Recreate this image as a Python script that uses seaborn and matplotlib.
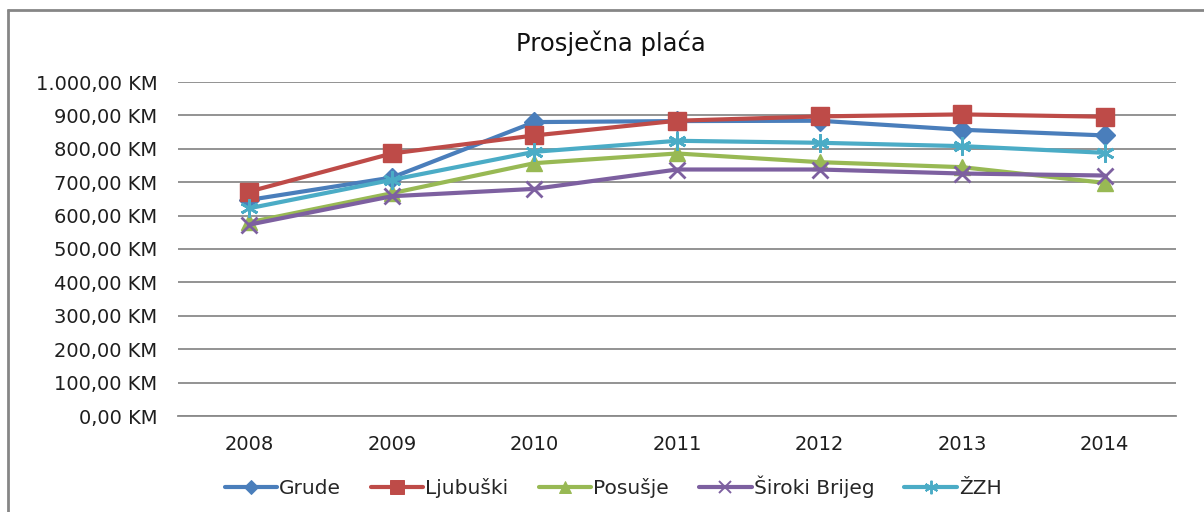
import matplotlib
matplotlib.use("Agg")
import matplotlib.pyplot as plt
import seaborn as sns
import pandas as pd
from matplotlib.lines import Line2D
from matplotlib.ticker import FuncFormatter

# podaci (procjena s grafikona)
years = [2008, 2009, 2010, 2011, 2012, 2013, 2014]
grude = [647, 714, 880, 883, 884, 857, 840]
ljubuski = [672, 786, 840, 884, 897, 903, 896]
posusje = [580, 667, 757, 786, 760, 745, 698]
siroki = [573, 658, 680, 738, 738, 726, 720]
zzh = [622, 707, 791, 824, 818, 808, 788]

names = ["Grude", "Ljubuški", "Posušje", "Široki Brijeg", "ŽZH"]
series = [grude, ljubuski, posusje, siroki, zzh]
colors = ["#4A7EBB", "#BE4B48", "#98B954", "#7D60A0", "#4BACC6"]
markers = ["D", "s", "^", "x", (6, 2, 0)]
msizes = [10, 13, 12, 11, 13]
medges = [1, 1, 1, 2, 2]

sns.set_style("white")
plt.rcParams["font.family"] = ["DejaVu Sans"]

fig = plt.figure(figsize=(12.04, 5.12), dpi=100)
ax = fig.add_axes([178 / 1204, 96 / 512, 998 / 1204, 334 / 512])

for name, vals, c, m, ms, mew in zip(names, series, colors, markers, msizes, medges):
    d = pd.DataFrame({"godina": years, "placa": vals})
    sns.lineplot(data=d, x="godina", y="placa", color=c, marker=m, markersize=ms,
                 markeredgecolor=c, markerfacecolor=c, markeredgewidth=mew,
                 linewidth=3, ax=ax, label=name, legend=False)

ax.set_xlim(2007.5, 2014.5)
ax.set_ylim(0, 1000)
ax.set_xticks(years)
ax.set_xticklabels([str(y) for y in years])
ax.set_yticks(range(0, 1001, 100))

def km(v, pos):
    s = f"{v:,.2f}".replace(",", "X").replace(".", ",").replace("X", ".")
    return s + " KM"

ax.yaxis.set_major_formatter(FuncFormatter(km))
ax.grid(axis="y", color="#8A8A8A", linewidth=1.3)
ax.grid(axis="x", visible=False)
for s in ["top", "right", "left"]:
    ax.spines[s].set_visible(False)
ax.spines["bottom"].set_color("#8A8A8A")
ax.spines["bottom"].set_linewidth(1.3)
ax.tick_params(axis="both", length=0, labelsize=14, colors="#1e1e1e")
ax.tick_params(axis="y", pad=15)
ax.tick_params(axis="x", pad=14)
ax.set_xlabel("")
ax.set_ylabel("")

fig.text(611 / 1204, 1 - 43 / 512, "Prosječna plaća", ha="center", va="center",
         fontsize=17.5, color="#111111")

handles = [Line2D([0], [0], color=c, marker=m, markersize=ms * 0.75, linewidth=3,
                  markeredgecolor=c, markerfacecolor=c, markeredgewidth=mew * 0.7)
           for c, m, ms, mew in zip(colors, markers, msizes, medges)]
fig.legend(handles, names, loc="center", bbox_to_anchor=(613 / 1204, 1 - 487 / 512),
           ncol=5, frameon=False, fontsize=14.5, handlelength=2.6, handletextpad=0.1,
           columnspacing=1.5)

# okvir grafikona (gornji i lijevi rub)
fig.add_artist(Line2D([7 / 1204, 1], [1 - 9.5 / 512, 1 - 9.5 / 512], color="#868686",
                      linewidth=2, solid_capstyle="butt"))
fig.add_artist(Line2D([7.5 / 1204, 7.5 / 1204], [0, 1 - 9 / 512], color="#868686",
                      linewidth=2, solid_capstyle="butt"))

fig.savefig("out.png", dpi=100)
